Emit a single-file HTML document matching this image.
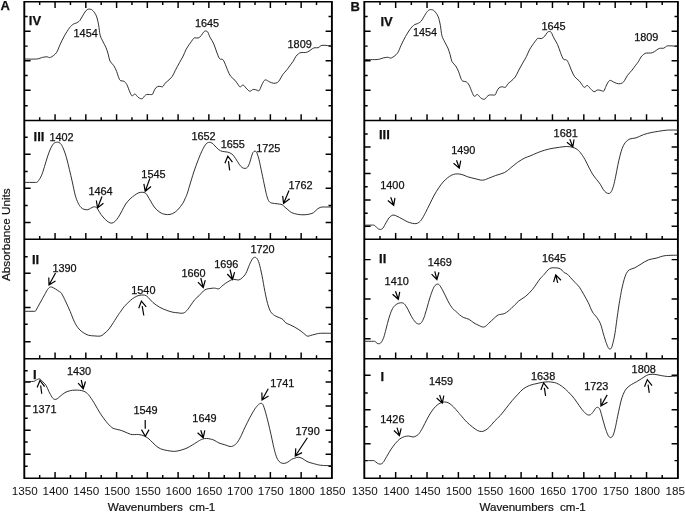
<!DOCTYPE html><html><head><meta charset="utf-8"><title>FTIR spectra</title><style>html,body{margin:0;padding:0;background:#fff}svg{display:block}text{font-family:"Liberation Sans",sans-serif;fill:#111}</style></head><body>
<svg width="685" height="512" viewBox="0 0 685 512">
<rect width="685" height="512" fill="#fff"/>
<path fill="none" stroke="#000" stroke-width="1.9" d="M24.30 0.95V479.05M331.90 0.95V479.05M364.30 0.95V479.05M677.90 0.95V479.05"/>
<path fill="none" stroke="#000" stroke-width="1.5" d="M24.30 1.70H331.90M24.30 120.60H331.90M24.30 239.30H331.90M24.30 358.70H331.90M24.30 478.30H331.90M364.30 1.70H677.90M364.30 120.60H677.90M364.30 239.30H677.90M364.30 358.70H677.90M364.30 478.30H677.90"/>
<path fill="none" stroke="#000" stroke-width="1.45" d="M39.68 1.70v3.40M55.06 1.70v6.30M70.44 1.70v3.40M85.82 1.70v6.30M101.20 1.70v3.40M116.58 1.70v6.30M131.96 1.70v3.40M147.34 1.70v6.30M162.72 1.70v3.40M178.10 1.70v6.30M193.48 1.70v3.40M208.86 1.70v6.30M224.24 1.70v3.40M239.62 1.70v6.30M255.00 1.70v3.40M270.38 1.70v6.30M285.76 1.70v3.40M301.14 1.70v6.30M316.52 1.70v3.40M39.68 120.60v-3.40M55.06 120.60v-6.30M70.44 120.60v-3.40M85.82 120.60v-6.30M101.20 120.60v-3.40M116.58 120.60v-6.30M131.96 120.60v-3.40M147.34 120.60v-6.30M162.72 120.60v-3.40M178.10 120.60v-6.30M193.48 120.60v-3.40M208.86 120.60v-6.30M224.24 120.60v-3.40M239.62 120.60v-6.30M255.00 120.60v-3.40M270.38 120.60v-6.30M285.76 120.60v-3.40M301.14 120.60v-6.30M316.52 120.60v-3.40M39.68 239.30v-3.40M55.06 239.30v-6.30M70.44 239.30v-3.40M85.82 239.30v-6.30M101.20 239.30v-3.40M116.58 239.30v-6.30M131.96 239.30v-3.40M147.34 239.30v-6.30M162.72 239.30v-3.40M178.10 239.30v-6.30M193.48 239.30v-3.40M208.86 239.30v-6.30M224.24 239.30v-3.40M239.62 239.30v-6.30M255.00 239.30v-3.40M270.38 239.30v-6.30M285.76 239.30v-3.40M301.14 239.30v-6.30M316.52 239.30v-3.40M39.68 358.70v-3.40M55.06 358.70v-6.30M70.44 358.70v-3.40M85.82 358.70v-6.30M101.20 358.70v-3.40M116.58 358.70v-6.30M131.96 358.70v-3.40M147.34 358.70v-6.30M162.72 358.70v-3.40M178.10 358.70v-6.30M193.48 358.70v-3.40M208.86 358.70v-6.30M224.24 358.70v-3.40M239.62 358.70v-6.30M255.00 358.70v-3.40M270.38 358.70v-6.30M285.76 358.70v-3.40M301.14 358.70v-6.30M316.52 358.70v-3.40M39.68 478.30v-3.40M55.06 478.30v-6.30M70.44 478.30v-3.40M85.82 478.30v-6.30M101.20 478.30v-3.40M116.58 478.30v-6.30M131.96 478.30v-3.40M147.34 478.30v-6.30M162.72 478.30v-3.40M178.10 478.30v-6.30M193.48 478.30v-3.40M208.86 478.30v-6.30M224.24 478.30v-3.40M239.62 478.30v-6.30M255.00 478.30v-3.40M270.38 478.30v-6.30M285.76 478.30v-3.40M301.14 478.30v-6.30M316.52 478.30v-3.40M379.98 1.70v3.40M395.66 1.70v6.30M411.34 1.70v3.40M427.02 1.70v6.30M442.70 1.70v3.40M458.38 1.70v6.30M474.06 1.70v3.40M489.74 1.70v6.30M505.42 1.70v3.40M521.10 1.70v6.30M536.78 1.70v3.40M552.46 1.70v6.30M568.14 1.70v3.40M583.82 1.70v6.30M599.50 1.70v3.40M615.18 1.70v6.30M630.86 1.70v3.40M646.54 1.70v6.30M662.22 1.70v3.40M379.98 120.60v-3.40M395.66 120.60v-6.30M411.34 120.60v-3.40M427.02 120.60v-6.30M442.70 120.60v-3.40M458.38 120.60v-6.30M474.06 120.60v-3.40M489.74 120.60v-6.30M505.42 120.60v-3.40M521.10 120.60v-6.30M536.78 120.60v-3.40M552.46 120.60v-6.30M568.14 120.60v-3.40M583.82 120.60v-6.30M599.50 120.60v-3.40M615.18 120.60v-6.30M630.86 120.60v-3.40M646.54 120.60v-6.30M662.22 120.60v-3.40M379.98 239.30v-3.40M395.66 239.30v-6.30M411.34 239.30v-3.40M427.02 239.30v-6.30M442.70 239.30v-3.40M458.38 239.30v-6.30M474.06 239.30v-3.40M489.74 239.30v-6.30M505.42 239.30v-3.40M521.10 239.30v-6.30M536.78 239.30v-3.40M552.46 239.30v-6.30M568.14 239.30v-3.40M583.82 239.30v-6.30M599.50 239.30v-3.40M615.18 239.30v-6.30M630.86 239.30v-3.40M646.54 239.30v-6.30M662.22 239.30v-3.40M379.98 358.70v-3.40M395.66 358.70v-6.30M411.34 358.70v-3.40M427.02 358.70v-6.30M442.70 358.70v-3.40M458.38 358.70v-6.30M474.06 358.70v-3.40M489.74 358.70v-6.30M505.42 358.70v-3.40M521.10 358.70v-6.30M536.78 358.70v-3.40M552.46 358.70v-6.30M568.14 358.70v-3.40M583.82 358.70v-6.30M599.50 358.70v-3.40M615.18 358.70v-6.30M630.86 358.70v-3.40M646.54 358.70v-6.30M662.22 358.70v-3.40M379.98 478.30v-3.40M395.66 478.30v-6.30M411.34 478.30v-3.40M427.02 478.30v-6.30M442.70 478.30v-3.40M458.38 478.30v-6.30M474.06 478.30v-3.40M489.74 478.30v-6.30M505.42 478.30v-3.40M521.10 478.30v-6.30M536.78 478.30v-3.40M552.46 478.30v-6.30M568.14 478.30v-3.40M583.82 478.30v-6.30M599.50 478.30v-3.40M615.18 478.30v-6.30M630.86 478.30v-3.40M646.54 478.30v-6.30M662.22 478.30v-3.40M24.30 16.40h3.40M331.90 16.40h-3.40M24.30 31.20h6.30M331.90 31.20h-6.30M24.30 46.10h3.40M331.90 46.10h-3.40M24.30 60.80h6.30M331.90 60.80h-6.30M24.30 75.50h3.40M331.90 75.50h-3.40M24.30 90.30h6.30M331.90 90.30h-6.30M24.30 105.80h3.40M331.90 105.80h-3.40M24.30 137.20h3.40M331.90 137.20h-3.40M24.30 154.30h6.30M331.90 154.30h-6.30M24.30 171.40h3.40M331.90 171.40h-3.40M24.30 188.30h6.30M331.90 188.30h-6.30M24.30 205.40h3.40M331.90 205.40h-3.40M24.30 222.40h6.30M331.90 222.40h-6.30M24.30 256.70h3.40M331.90 256.70h-3.40M24.30 273.30h6.30M331.90 273.30h-6.30M24.30 290.50h3.40M331.90 290.50h-3.40M24.30 307.50h6.30M331.90 307.50h-6.30M24.30 324.30h3.40M331.90 324.30h-3.40M24.30 341.80h6.30M331.90 341.80h-6.30M24.30 370.80h3.40M331.90 370.80h-3.40M24.30 382.00h6.30M331.90 382.00h-6.30M24.30 394.20h3.40M331.90 394.20h-3.40M24.30 406.00h6.30M331.90 406.00h-6.30M24.30 418.20h3.40M331.90 418.20h-3.40M24.30 430.20h6.30M331.90 430.20h-6.30M24.30 442.00h3.40M331.90 442.00h-3.40M24.30 454.20h6.30M331.90 454.20h-6.30M24.30 466.20h3.40M331.90 466.20h-3.40M364.30 16.40h3.40M677.90 16.40h-3.40M364.30 31.20h6.30M677.90 31.20h-6.30M364.30 46.10h3.40M677.90 46.10h-3.40M364.30 60.80h6.30M677.90 60.80h-6.30M364.30 75.50h3.40M677.90 75.50h-3.40M364.30 90.30h6.30M677.90 90.30h-6.30M364.30 105.80h3.40M677.90 105.80h-3.40M364.30 134.00h3.40M677.90 134.00h-3.40M364.30 147.00h6.30M677.90 147.00h-6.30M364.30 160.00h3.40M677.90 160.00h-3.40M364.30 173.50h6.30M677.90 173.50h-6.30M364.30 186.80h3.40M677.90 186.80h-3.40M364.30 199.90h6.30M677.90 199.90h-6.30M364.30 213.20h3.40M677.90 213.20h-3.40M364.30 226.20h6.30M677.90 226.20h-6.30M364.30 259.60h6.30M677.90 259.60h-6.30M364.30 279.00h3.40M677.90 279.00h-3.40M364.30 299.00h6.30M677.90 299.00h-6.30M364.30 318.80h3.40M677.90 318.80h-3.40M364.30 338.70h6.30M677.90 338.70h-6.30M364.30 375.30h6.30M677.90 375.30h-6.30M364.30 392.90h3.40M677.90 392.90h-3.40M364.30 409.80h6.30M677.90 409.80h-6.30M364.30 426.80h3.40M677.90 426.80h-3.40M364.30 443.80h6.30M677.90 443.80h-6.30M364.30 460.60h3.40M677.90 460.60h-3.40"/>
<path fill="none" stroke="#1a1a1a" stroke-width="0.9" stroke-linejoin="round" d="M24.20 59.00C26.27 59.00 33.55 59.27 36.60 59.00C39.65 58.73 40.78 57.77 42.50 57.40C44.22 57.03 45.57 56.80 46.90 56.80C48.23 56.80 48.92 58.08 50.50 57.40C52.08 56.72 54.82 54.82 56.40 52.70C57.98 50.58 58.67 47.50 60.00 44.70C61.33 41.90 62.82 38.72 64.40 35.90C65.98 33.08 68.03 29.75 69.50 27.80C70.97 25.85 72.10 24.98 73.20 24.20C74.30 23.42 75.00 23.72 76.10 23.10C77.20 22.48 78.45 22.15 79.80 20.50C81.15 18.85 82.98 15.00 84.20 13.20C85.42 11.40 86.13 10.37 87.10 9.70C88.07 9.03 89.05 9.05 90.00 9.20C90.95 9.35 91.73 9.45 92.80 10.60C93.87 11.75 95.43 13.72 96.40 16.10C97.37 18.48 97.98 21.73 98.60 24.90C99.22 28.07 99.37 32.30 100.10 35.10C100.83 37.90 102.02 39.62 103.00 41.70C103.98 43.78 105.13 45.52 106.00 47.60C106.87 49.68 107.53 51.95 108.20 54.20C108.87 56.45 109.08 59.22 110.00 61.10C110.92 62.98 112.60 63.78 113.70 65.50C114.80 67.22 115.75 69.33 116.60 71.40C117.45 73.47 118.15 76.37 118.80 77.90C119.45 79.43 119.65 80.03 120.50 80.60C121.35 81.17 122.85 80.65 123.90 81.30C124.95 81.95 125.82 82.73 126.80 84.50C127.78 86.27 128.93 90.02 129.80 91.90C130.67 93.78 131.15 95.45 132.00 95.80C132.85 96.15 134.05 93.93 134.90 94.00C135.75 94.07 136.37 95.52 137.10 96.20C137.83 96.88 138.45 97.68 139.30 98.10C140.15 98.52 141.35 99.02 142.20 98.70C143.05 98.38 143.67 96.90 144.40 96.20C145.13 95.50 145.75 94.78 146.60 94.50C147.45 94.22 148.52 94.53 149.50 94.50C150.48 94.47 151.77 94.87 152.50 94.30C153.23 93.73 153.30 92.23 153.90 91.10C154.50 89.97 155.25 88.30 156.10 87.50C156.95 86.70 157.90 86.43 159.00 86.30C160.10 86.17 161.72 87.18 162.70 86.70C163.68 86.22 164.05 84.37 164.90 83.40C165.75 82.43 166.58 82.05 167.80 80.90C169.02 79.75 170.97 78.22 172.20 76.50C173.43 74.78 173.98 72.92 175.20 70.60C176.42 68.28 178.17 65.03 179.50 62.60C180.83 60.17 182.10 58.20 183.20 56.00C184.30 53.80 185.08 51.33 186.10 49.40C187.12 47.47 188.07 46.20 189.30 44.40C190.53 42.60 192.57 39.70 193.50 38.60C194.43 37.50 194.12 37.90 194.90 37.80C195.68 37.70 197.13 38.38 198.20 38.00C199.27 37.62 200.42 36.47 201.30 35.50C202.18 34.53 202.88 32.93 203.50 32.20C204.12 31.47 204.53 31.28 205.00 31.10C205.47 30.92 205.83 30.92 206.30 31.10C206.77 31.28 207.17 31.15 207.80 32.20C208.43 33.25 209.10 35.43 210.10 37.40C211.10 39.37 212.70 41.55 213.80 44.00C214.90 46.45 215.73 49.65 216.70 52.10C217.67 54.55 218.62 57.48 219.60 58.70C220.58 59.92 221.73 58.67 222.60 59.40C223.47 60.13 223.95 61.27 224.80 63.10C225.65 64.93 226.73 68.22 227.70 70.40C228.67 72.58 229.38 74.55 230.60 76.20C231.82 77.85 233.78 78.95 235.00 80.30C236.22 81.65 237.05 83.20 237.90 84.30C238.75 85.40 239.23 86.78 240.10 86.90C240.97 87.02 242.12 84.82 243.10 85.00C244.08 85.18 244.90 86.97 246.00 88.00C247.10 89.03 248.48 90.97 249.70 91.20C250.92 91.43 252.08 89.57 253.30 89.40C254.52 89.23 256.02 90.00 257.00 90.20C257.98 90.40 258.47 91.33 259.20 90.60C259.93 89.87 260.67 87.33 261.40 85.80C262.13 84.27 262.87 82.38 263.60 81.40C264.33 80.42 264.83 79.83 265.80 79.90C266.77 79.97 268.07 81.23 269.40 81.80C270.73 82.37 272.45 83.20 273.80 83.30C275.15 83.40 276.52 82.97 277.50 82.40C278.48 81.83 278.85 81.17 279.70 79.90C280.55 78.63 281.38 76.50 282.60 74.80C283.82 73.10 285.68 71.37 287.00 69.70C288.32 68.03 289.47 66.20 290.50 64.80C291.53 63.40 292.32 62.68 293.20 61.30C294.08 59.92 294.92 57.75 295.80 56.50C296.68 55.25 297.62 54.47 298.50 53.80C299.38 53.13 299.93 52.72 301.10 52.50C302.27 52.28 304.18 52.72 305.50 52.50C306.82 52.28 307.83 51.85 309.00 51.20C310.17 50.55 311.48 49.18 312.50 48.60C313.52 48.02 314.15 47.85 315.10 47.70C316.05 47.55 317.23 48.03 318.20 47.70C319.17 47.37 320.08 46.10 320.90 45.70C321.72 45.30 322.00 45.33 323.10 45.30C324.20 45.27 326.02 45.37 327.50 45.50C328.98 45.63 331.25 46.00 332.00 46.10"/>
<path fill="none" stroke="#1a1a1a" stroke-width="0.9" stroke-linejoin="round" d="M364.70 59.50C366.80 59.50 374.21 59.77 377.31 59.50C380.41 59.23 381.57 58.27 383.31 57.90C385.06 57.53 386.43 57.30 387.79 57.30C389.15 57.30 389.84 58.58 391.45 57.90C393.06 57.22 395.84 55.32 397.45 53.20C399.06 51.08 399.76 48.00 401.11 45.20C402.47 42.40 403.98 39.22 405.59 36.40C407.20 33.58 409.29 30.25 410.78 28.30C412.27 26.35 413.42 25.48 414.54 24.70C415.66 23.92 416.37 24.22 417.49 23.60C418.61 22.98 419.88 22.65 421.26 21.00C422.63 19.35 424.49 15.50 425.73 13.70C426.97 11.90 427.70 10.87 428.68 10.20C429.66 9.53 430.66 9.55 431.63 9.70C432.60 9.85 433.39 9.95 434.48 11.10C435.56 12.25 437.16 14.22 438.14 16.60C439.12 18.98 439.75 22.23 440.38 25.40C441.01 28.57 441.16 32.80 441.91 35.60C442.65 38.40 443.85 40.12 444.86 42.20C445.86 44.28 447.03 46.02 447.91 48.10C448.79 50.18 449.47 52.45 450.14 54.70C450.82 56.95 451.04 59.72 451.98 61.60C452.91 63.48 454.62 64.28 455.74 66.00C456.86 67.72 457.82 69.83 458.69 71.90C459.55 73.97 460.27 76.87 460.93 78.40C461.59 79.93 461.79 80.53 462.66 81.10C463.52 81.67 465.05 81.15 466.12 81.80C467.18 82.45 468.06 83.23 469.06 85.00C470.07 86.77 471.24 90.52 472.12 92.40C473.00 94.28 473.49 95.95 474.35 96.30C475.22 96.65 476.44 94.43 477.30 94.50C478.17 94.57 478.80 96.02 479.54 96.70C480.29 97.38 480.92 98.18 481.78 98.60C482.64 99.02 483.87 99.52 484.73 99.20C485.59 98.88 486.22 97.40 486.97 96.70C487.71 96.00 488.34 95.28 489.21 95.00C490.07 94.72 491.16 95.03 492.16 95.00C493.16 94.97 494.46 95.37 495.21 94.80C495.95 94.23 496.02 92.73 496.63 91.60C497.24 90.47 498.00 88.80 498.87 88.00C499.73 87.20 500.70 86.93 501.82 86.80C502.94 86.67 504.58 87.68 505.58 87.20C506.58 86.72 506.96 84.87 507.82 83.90C508.69 82.93 509.53 82.55 510.77 81.40C512.01 80.25 513.99 78.72 515.25 77.00C516.50 75.28 517.06 73.42 518.30 71.10C519.54 68.78 521.32 65.53 522.67 63.10C524.03 60.67 525.32 58.70 526.44 56.50C527.56 54.30 528.35 51.83 529.39 49.90C530.42 47.97 531.39 46.70 532.64 44.90C533.90 43.10 535.96 40.20 536.91 39.10C537.86 38.00 537.54 38.40 538.34 38.30C539.13 38.20 540.61 38.88 541.69 38.50C542.78 38.12 543.95 36.97 544.85 36.00C545.75 35.03 546.46 33.43 547.09 32.70C547.71 31.97 548.14 31.78 548.61 31.60C549.09 31.42 549.46 31.42 549.93 31.60C550.41 31.78 550.82 31.65 551.46 32.70C552.10 33.75 552.78 35.93 553.80 37.90C554.82 39.87 556.44 42.05 557.56 44.50C558.68 46.95 559.53 50.15 560.51 52.60C561.50 55.05 562.46 57.98 563.46 59.20C564.46 60.42 565.63 59.17 566.51 59.90C567.40 60.63 567.89 61.77 568.75 63.60C569.62 65.43 570.72 68.72 571.70 70.90C572.69 73.08 573.41 75.05 574.65 76.70C575.89 78.35 577.89 79.45 579.13 80.80C580.37 82.15 581.21 83.70 582.08 84.80C582.94 85.90 583.43 87.28 584.32 87.40C585.20 87.52 586.37 85.32 587.37 85.50C588.37 85.68 589.20 87.47 590.32 88.50C591.44 89.53 592.84 91.47 594.08 91.70C595.32 91.93 596.51 90.07 597.74 89.90C598.98 89.73 600.51 90.50 601.51 90.70C602.51 90.90 603.00 91.83 603.74 91.10C604.49 90.37 605.24 87.83 605.98 86.30C606.73 84.77 607.47 82.88 608.22 81.90C608.97 80.92 609.48 80.33 610.46 80.40C611.44 80.47 612.76 81.73 614.12 82.30C615.48 82.87 617.22 83.70 618.60 83.80C619.97 83.90 621.36 83.47 622.36 82.90C623.36 82.33 623.73 81.67 624.60 80.40C625.46 79.13 626.31 77.00 627.55 75.30C628.79 73.60 630.68 71.87 632.02 70.20C633.36 68.53 634.53 66.70 635.58 65.30C636.63 63.90 637.43 63.18 638.33 61.80C639.23 60.42 640.08 58.25 640.97 57.00C641.87 55.75 642.82 54.97 643.72 54.30C644.62 53.63 645.18 53.22 646.37 53.00C647.55 52.78 649.50 53.22 650.84 53.00C652.18 52.78 653.22 52.35 654.40 51.70C655.59 51.05 656.93 49.68 657.96 49.10C659.00 48.52 659.64 48.35 660.61 48.20C661.57 48.05 662.78 48.53 663.76 48.20C664.74 47.87 665.68 46.60 666.51 46.20C667.34 45.80 667.63 45.83 668.75 45.80C669.86 45.77 671.71 45.87 673.22 46.00C674.73 46.13 677.04 46.50 677.80 46.60"/>
<path fill="none" stroke="#1a1a1a" stroke-width="0.9" stroke-linejoin="round" d="M24.00 182.40C25.92 182.40 33.35 182.42 35.50 182.40C37.65 182.38 36.38 182.62 36.90 182.30C37.42 181.98 37.82 181.67 38.60 180.50C39.38 179.33 40.62 177.62 41.60 175.30C42.58 172.98 43.53 169.65 44.50 166.60C45.47 163.55 46.42 159.93 47.40 157.00C48.38 154.07 49.42 151.18 50.40 149.00C51.38 146.82 52.45 144.98 53.30 143.90C54.15 142.82 54.83 142.78 55.50 142.50C56.17 142.22 56.70 142.20 57.30 142.20C57.90 142.20 58.43 142.10 59.10 142.50C59.77 142.90 60.57 143.52 61.30 144.60C62.03 145.68 62.63 146.80 63.50 149.00C64.37 151.20 65.52 154.38 66.50 157.80C67.48 161.22 68.43 165.48 69.40 169.50C70.37 173.52 71.33 177.63 72.30 181.90C73.27 186.17 74.22 191.55 75.20 195.10C76.18 198.65 77.22 201.13 78.20 203.20C79.18 205.27 80.13 206.48 81.10 207.50C82.07 208.52 82.90 208.93 84.00 209.30C85.10 209.67 86.60 209.87 87.70 209.70C88.80 209.53 89.63 208.77 90.60 208.30C91.57 207.83 92.65 207.10 93.50 206.90C94.35 206.70 95.03 206.78 95.70 207.10C96.37 207.42 96.63 207.60 97.50 208.80C98.37 210.00 99.62 212.53 100.90 214.30C102.18 216.07 103.87 218.07 105.20 219.40C106.53 220.73 107.80 221.68 108.90 222.30C110.00 222.92 110.82 223.22 111.80 223.10C112.78 222.98 113.70 222.58 114.80 221.60C115.90 220.62 117.18 219.03 118.40 217.20C119.62 215.37 120.88 212.80 122.10 210.60C123.32 208.40 124.37 205.95 125.70 204.00C127.03 202.05 128.63 200.35 130.10 198.90C131.57 197.45 133.03 196.33 134.50 195.30C135.97 194.27 137.55 193.20 138.90 192.70C140.25 192.20 141.50 192.23 142.60 192.30C143.70 192.37 144.65 192.48 145.50 193.10C146.35 193.72 146.85 194.67 147.70 196.00C148.55 197.33 149.50 199.27 150.60 201.10C151.70 202.93 153.07 205.37 154.30 207.00C155.53 208.63 156.67 209.80 158.00 210.90C159.33 212.00 160.72 212.98 162.30 213.60C163.88 214.22 165.78 214.60 167.50 214.60C169.22 214.60 170.90 214.38 172.60 213.60C174.30 212.82 176.00 211.62 177.70 209.90C179.40 208.18 181.58 205.15 182.80 203.30C184.02 201.45 184.27 200.40 185.00 198.80C185.73 197.20 186.40 196.00 187.20 193.70C188.00 191.40 188.70 188.62 189.80 185.00C190.90 181.38 192.40 176.18 193.80 172.00C195.20 167.82 196.73 163.63 198.20 159.90C199.67 156.17 201.27 152.28 202.60 149.60C203.93 146.92 205.10 145.02 206.20 143.80C207.30 142.58 208.22 142.42 209.20 142.30C210.18 142.18 211.13 142.48 212.10 143.10C213.07 143.72 213.90 144.92 215.00 146.00C216.10 147.08 217.48 148.70 218.70 149.60C219.92 150.50 220.83 150.98 222.30 151.40C223.77 151.82 225.90 151.67 227.50 152.10C229.10 152.53 230.57 152.95 231.90 154.00C233.23 155.05 234.28 156.68 235.50 158.40C236.72 160.12 238.10 162.78 239.20 164.30C240.30 165.82 241.13 166.82 242.10 167.50C243.07 168.18 244.15 168.40 245.00 168.40C245.85 168.40 246.47 168.30 247.20 167.50C247.93 166.70 248.67 165.48 249.40 163.60C250.13 161.72 250.98 158.08 251.60 156.20C252.22 154.32 252.53 153.15 253.10 152.30C253.67 151.45 254.40 151.05 255.00 151.10C255.60 151.15 256.05 151.25 256.70 152.60C257.35 153.95 258.03 155.78 258.90 159.20C259.77 162.62 260.92 168.47 261.90 173.10C262.88 177.73 263.95 183.10 264.80 187.00C265.65 190.90 266.27 194.07 267.00 196.50C267.73 198.93 268.35 200.50 269.20 201.60C270.05 202.70 270.77 202.73 272.10 203.10C273.43 203.47 275.53 203.55 277.20 203.80C278.87 204.05 280.92 204.12 282.10 204.60C283.28 205.08 283.33 205.85 284.30 206.70C285.27 207.55 286.68 208.72 287.90 209.70C289.12 210.68 290.00 211.83 291.60 212.60C293.20 213.37 295.43 213.93 297.50 214.30C299.57 214.67 301.93 214.85 304.00 214.80C306.07 214.75 308.30 214.37 309.90 214.00C311.50 213.63 312.38 213.40 313.60 212.60C314.82 211.80 315.98 210.10 317.20 209.20C318.42 208.30 319.55 207.57 320.90 207.20C322.25 206.83 323.45 207.03 325.30 207.00C327.15 206.97 330.88 207.00 332.00 207.00"/>
<path fill="none" stroke="#1a1a1a" stroke-width="0.9" stroke-linejoin="round" d="M24.00 311.30C25.50 311.30 31.17 311.31 33.00 311.30C34.83 311.29 34.52 311.40 35.00 311.25C35.48 311.10 35.07 311.77 35.90 310.40C36.73 309.02 38.57 305.58 40.00 303.00C41.43 300.42 43.25 297.13 44.50 294.90C45.75 292.67 46.65 290.85 47.50 289.60C48.35 288.35 48.93 287.83 49.60 287.40C50.27 286.97 50.52 286.73 51.50 287.00C52.48 287.27 54.25 288.27 55.50 289.00C56.75 289.73 58.00 290.67 59.00 291.40C60.00 292.13 60.35 291.63 61.50 293.40C62.65 295.17 64.45 298.98 65.90 302.00C67.35 305.02 68.75 308.12 70.20 311.50C71.65 314.88 73.13 319.38 74.60 322.30C76.07 325.22 77.53 327.27 79.00 329.00C80.47 330.73 81.80 331.65 83.40 332.70C85.00 333.75 86.77 334.77 88.60 335.30C90.43 335.83 92.45 335.77 94.40 335.90C96.35 336.03 98.72 336.43 100.30 336.10C101.88 335.77 102.45 335.08 103.90 333.90C105.35 332.72 107.42 330.90 109.00 329.00C110.58 327.10 111.80 324.93 113.40 322.50C115.00 320.07 117.33 316.32 118.60 314.40C119.87 312.48 120.03 312.33 121.00 311.00C121.97 309.67 122.85 308.15 124.40 306.40C125.95 304.65 128.58 302.02 130.30 300.50C132.02 298.98 133.23 298.15 134.70 297.30C136.17 296.45 137.45 295.77 139.10 295.40C140.75 295.03 143.07 294.75 144.60 295.10C146.13 295.45 146.90 296.25 148.30 297.50C149.70 298.75 151.08 300.97 153.00 302.60C154.92 304.23 157.50 306.00 159.80 307.30C162.10 308.60 164.65 309.58 166.80 310.40C168.95 311.22 170.75 311.78 172.70 312.20C174.65 312.62 176.80 312.73 178.50 312.90C180.20 313.07 181.55 313.55 182.90 313.20C184.25 312.85 185.25 312.18 186.60 310.80C187.95 309.42 189.67 306.73 191.00 304.90C192.33 303.07 193.27 301.33 194.60 299.80C195.93 298.27 197.53 297.17 199.00 295.70C200.47 294.23 202.17 292.08 203.40 291.00C204.63 289.92 205.30 289.62 206.40 289.20C207.50 288.78 208.67 288.68 210.00 288.50C211.33 288.32 212.93 288.05 214.40 288.10C215.87 288.15 217.58 289.10 218.80 288.80C220.02 288.50 220.60 287.20 221.70 286.30C222.80 285.40 224.05 284.33 225.40 283.40C226.75 282.47 228.47 281.38 229.80 280.70C231.13 280.02 231.93 279.42 233.40 279.30C234.87 279.18 237.13 280.25 238.60 280.00C240.07 279.75 240.98 278.90 242.20 277.80C243.42 276.70 244.68 275.60 245.90 273.40C247.12 271.20 248.40 267.03 249.50 264.60C250.60 262.17 251.63 260.02 252.50 258.80C253.37 257.58 253.97 257.35 254.70 257.30C255.43 257.25 256.17 257.52 256.90 258.50C257.63 259.48 258.25 260.35 259.10 263.20C259.95 266.05 261.03 270.88 262.00 275.60C262.97 280.32 263.97 286.85 264.90 291.50C265.83 296.15 266.65 300.15 267.60 303.50C268.55 306.85 269.43 309.60 270.60 311.60C271.77 313.60 273.17 314.50 274.60 315.50C276.03 316.50 277.83 316.95 279.20 317.60C280.57 318.25 281.72 318.53 282.80 319.40C283.88 320.27 284.48 321.90 285.70 322.80C286.92 323.70 288.63 324.10 290.10 324.80C291.57 325.50 293.03 326.18 294.50 327.00C295.97 327.82 297.43 328.70 298.90 329.70C300.37 330.70 302.08 332.03 303.30 333.00C304.52 333.97 305.42 334.97 306.20 335.50C306.98 336.03 307.27 336.20 308.00 336.20C308.73 336.20 309.43 335.82 310.60 335.50C311.77 335.18 313.40 334.67 315.00 334.30C316.60 333.93 317.37 333.47 320.20 333.30C323.03 333.13 330.03 333.30 332.00 333.30"/>
<path fill="none" stroke="#1a1a1a" stroke-width="0.9" stroke-linejoin="round" d="M24.00 381.40C25.58 381.40 31.33 381.70 33.50 381.40C35.67 381.10 35.95 380.00 37.00 379.60C38.05 379.20 38.87 378.67 39.80 379.00C40.73 379.33 41.57 380.55 42.60 381.60C43.63 382.65 44.95 383.65 46.00 385.30C47.05 386.95 47.93 389.57 48.90 391.50C49.87 393.43 51.02 395.67 51.80 396.90C52.58 398.13 53.03 398.48 53.60 398.90C54.17 399.32 54.60 399.42 55.20 399.40C55.80 399.38 56.30 399.38 57.20 398.80C58.10 398.22 59.30 396.93 60.60 395.90C61.90 394.87 63.60 393.42 65.00 392.60C66.40 391.78 67.78 391.38 69.00 391.00C70.22 390.62 71.13 390.45 72.30 390.30C73.47 390.15 74.78 390.10 76.00 390.10C77.22 390.10 78.27 390.10 79.60 390.30C80.93 390.50 82.53 390.58 84.00 391.30C85.47 392.02 86.68 392.62 88.40 394.60C90.12 396.58 92.35 400.10 94.30 403.20C96.25 406.30 98.15 410.17 100.10 413.20C102.05 416.23 104.05 419.02 106.00 421.40C107.95 423.78 110.10 426.20 111.80 427.50C113.50 428.80 114.83 428.77 116.20 429.20C117.57 429.63 118.70 429.72 120.00 430.10C121.30 430.48 122.23 430.80 124.00 431.50C125.77 432.20 128.83 433.78 130.60 434.30C132.37 434.82 133.27 434.57 134.60 434.60C135.93 434.63 136.83 434.22 138.60 434.50C140.37 434.78 143.23 435.33 145.20 436.30C147.17 437.27 148.68 438.78 150.40 440.30C152.12 441.82 153.80 443.98 155.50 445.40C157.20 446.82 158.65 447.95 160.60 448.80C162.55 449.65 164.88 450.07 167.20 450.50C169.52 450.93 172.18 451.47 174.50 451.40C176.82 451.33 179.02 450.67 181.10 450.10C183.18 449.53 185.05 448.90 187.00 448.00C188.95 447.10 190.85 445.87 192.80 444.70C194.75 443.53 197.25 441.87 198.70 441.00C200.15 440.13 200.55 439.90 201.50 439.50C202.45 439.10 203.18 438.73 204.40 438.60C205.62 438.47 207.22 438.45 208.80 438.70C210.38 438.95 212.20 439.38 213.90 440.10C215.60 440.82 217.17 442.22 219.00 443.00C220.83 443.78 223.07 444.22 224.90 444.80C226.73 445.38 228.67 446.30 230.00 446.50C231.33 446.70 231.80 446.53 232.90 446.00C234.00 445.47 235.37 444.72 236.60 443.30C237.83 441.88 238.95 440.07 240.30 437.50C241.65 434.93 243.12 431.20 244.70 427.90C246.28 424.60 248.10 420.87 249.80 417.70C251.50 414.53 253.43 411.10 254.90 408.90C256.37 406.70 257.70 405.40 258.60 404.50C259.50 403.60 259.80 403.68 260.30 403.50C260.80 403.32 261.15 403.20 261.60 403.40C262.05 403.60 262.40 403.42 263.00 404.70C263.60 405.98 264.35 408.20 265.20 411.10C266.05 414.00 267.13 418.20 268.10 422.10C269.07 426.00 270.15 430.72 271.00 434.50C271.85 438.28 272.47 441.62 273.20 444.80C273.93 447.98 274.67 451.17 275.40 453.60C276.13 456.03 276.75 457.90 277.60 459.40C278.45 460.90 279.40 461.93 280.50 462.60C281.60 463.27 282.98 463.48 284.20 463.40C285.42 463.32 286.58 462.77 287.80 462.10C289.02 461.43 290.27 460.08 291.50 459.40C292.73 458.72 294.07 458.36 295.20 458.00C296.32 457.64 297.12 457.21 298.25 457.25C299.38 457.29 300.54 457.54 302.00 458.25C303.46 458.96 305.12 460.62 307.00 461.50C308.88 462.38 310.96 462.88 313.25 463.50C315.54 464.12 317.62 464.88 320.75 465.25C323.88 465.62 330.12 465.67 332.00 465.75"/>
<path fill="none" stroke="#1a1a1a" stroke-width="0.9" stroke-linejoin="round" d="M364.00 225.20C365.42 225.18 370.77 225.08 372.50 225.10C374.23 225.12 373.75 224.95 374.40 225.30C375.05 225.65 375.70 226.58 376.40 227.20C377.10 227.82 377.87 228.63 378.60 229.00C379.33 229.37 380.07 229.57 380.80 229.40C381.53 229.23 382.13 229.10 383.00 228.00C383.87 226.90 385.02 224.47 386.00 222.80C386.98 221.13 387.93 219.22 388.90 218.00C389.87 216.78 390.95 215.98 391.80 215.50C392.65 215.02 393.15 214.98 394.00 215.10C394.85 215.22 395.55 215.57 396.90 216.20C398.25 216.83 400.38 217.98 402.10 218.90C403.82 219.82 405.50 220.97 407.20 221.70C408.90 222.43 410.83 222.98 412.30 223.30C413.77 223.62 414.90 223.75 416.00 223.60C417.10 223.45 417.93 223.13 418.90 222.40C419.87 221.67 420.70 220.83 421.80 219.20C422.90 217.57 424.15 215.17 425.50 212.60C426.85 210.03 428.43 206.73 429.90 203.80C431.37 200.87 432.83 197.65 434.30 195.00C435.77 192.35 437.23 190.07 438.70 187.90C440.17 185.73 441.63 183.67 443.10 182.00C444.57 180.33 446.05 179.05 447.50 177.90C448.95 176.75 450.47 175.75 451.80 175.10C453.13 174.45 454.27 174.18 455.50 174.00C456.73 173.82 457.95 173.85 459.20 174.00C460.45 174.15 461.57 174.43 463.00 174.90C464.43 175.37 465.78 176.17 467.80 176.80C469.82 177.43 472.65 178.13 475.10 178.70C477.55 179.27 480.30 180.25 482.50 180.20C484.70 180.15 486.12 179.18 488.30 178.40C490.48 177.62 492.92 176.47 495.60 175.50C498.28 174.53 501.95 173.82 504.40 172.60C506.85 171.38 508.10 169.92 510.30 168.20C512.50 166.48 515.17 164.02 517.60 162.30C520.03 160.58 522.83 158.95 524.90 157.90C526.97 156.85 527.93 156.85 530.00 156.00C532.07 155.15 534.87 153.77 537.30 152.80C539.73 151.83 542.15 150.93 544.60 150.20C547.05 149.47 549.55 148.88 552.00 148.40C554.45 147.92 556.87 147.62 559.30 147.30C561.73 146.98 564.40 146.50 566.60 146.50C568.80 146.50 570.78 146.85 572.50 147.30C574.22 147.75 575.57 148.28 576.90 149.20C578.23 150.12 579.17 151.10 580.50 152.80C581.83 154.50 583.43 156.83 584.90 159.40C586.37 161.97 587.95 165.63 589.30 168.20C590.65 170.77 591.78 172.92 593.00 174.80C594.22 176.68 595.38 177.92 596.60 179.50C597.82 181.08 599.20 182.65 600.30 184.30C601.40 185.95 602.23 188.02 603.20 189.40C604.17 190.78 605.12 191.92 606.10 192.60C607.08 193.28 608.23 193.67 609.10 193.50C609.97 193.33 610.57 192.88 611.30 191.60C612.03 190.32 612.77 188.37 613.50 185.80C614.23 183.23 614.98 179.62 615.70 176.20C616.42 172.78 617.08 168.72 617.80 165.30C618.52 161.88 619.27 158.52 620.00 155.70C620.73 152.88 621.33 150.58 622.20 148.40C623.07 146.22 623.90 144.18 625.20 142.60C626.50 141.02 628.20 139.68 630.00 138.90C631.80 138.12 633.73 138.62 636.00 137.90C638.27 137.18 641.08 135.48 643.60 134.60C646.12 133.72 648.60 133.15 651.10 132.60C653.60 132.05 655.88 131.72 658.60 131.30C661.32 130.88 664.17 130.30 667.40 130.10C670.63 129.90 676.23 130.10 678.00 130.10"/>
<path fill="none" stroke="#1a1a1a" stroke-width="0.9" stroke-linejoin="round" d="M364.00 341.30C365.58 341.30 371.63 341.27 373.50 341.30C375.37 341.33 374.63 341.20 375.20 341.50C375.77 341.80 376.28 342.72 376.90 343.10C377.52 343.48 378.17 343.93 378.90 343.80C379.63 343.67 380.48 343.40 381.30 342.30C382.12 341.20 383.02 339.38 383.80 337.20C384.58 335.02 385.15 332.37 386.00 329.20C386.85 326.03 387.93 321.38 388.90 318.20C389.87 315.02 390.83 312.18 391.80 310.10C392.77 308.02 393.60 306.83 394.70 305.70C395.80 304.57 397.17 303.78 398.40 303.30C399.63 302.82 401.00 302.58 402.10 302.80C403.20 303.02 404.03 303.50 405.00 304.60C405.97 305.70 406.80 307.38 407.90 309.40C409.00 311.42 410.38 314.62 411.60 316.70C412.82 318.78 414.05 320.68 415.20 321.90C416.35 323.12 417.47 323.88 418.50 324.00C419.53 324.12 420.48 323.68 421.40 322.60C422.32 321.52 423.07 319.95 424.00 317.50C424.93 315.05 426.02 311.20 427.00 307.90C427.98 304.60 428.93 300.75 429.90 297.70C430.87 294.65 431.95 291.63 432.80 289.60C433.65 287.57 434.22 286.42 435.00 285.50C435.78 284.58 436.77 284.18 437.50 284.10C438.23 284.02 438.60 284.08 439.40 285.00C440.20 285.92 441.20 287.60 442.30 289.60C443.40 291.60 444.77 294.55 446.00 297.00C447.23 299.45 448.48 302.25 449.70 304.30C450.92 306.35 452.33 308.18 453.30 309.30C454.27 310.42 454.48 310.10 455.50 311.00C456.52 311.90 458.02 313.60 459.40 314.70C460.78 315.80 462.22 316.83 463.80 317.60C465.38 318.37 467.20 318.40 468.90 319.30C470.60 320.20 472.28 321.95 474.00 323.00C475.72 324.05 477.85 324.95 479.20 325.60C480.55 326.25 481.13 326.73 482.10 326.90C483.07 327.07 483.90 327.20 485.00 326.60C486.10 326.00 487.23 324.63 488.70 323.30C490.17 321.97 492.22 320.00 493.80 318.60C495.38 317.20 496.37 315.77 498.20 314.90C500.03 314.03 502.60 314.50 504.80 313.40C507.00 312.30 509.08 310.37 511.40 308.30C513.72 306.23 516.38 302.95 518.70 301.00C521.02 299.05 522.98 298.55 525.30 296.60C527.62 294.65 530.17 292.23 532.60 289.30C535.03 286.37 537.93 281.52 539.90 279.00C541.87 276.48 543.03 275.73 544.40 274.20C545.77 272.67 547.00 270.83 548.10 269.80C549.20 268.77 549.92 268.33 551.00 268.00C552.08 267.67 553.27 267.75 554.60 267.80C555.93 267.85 557.77 267.90 559.00 268.30C560.23 268.70 561.13 269.47 562.00 270.20C562.87 270.93 563.35 272.08 564.20 272.70C565.05 273.32 566.02 273.05 567.10 273.90C568.18 274.75 569.37 276.37 570.70 277.80C572.03 279.23 573.63 280.92 575.10 282.50C576.57 284.08 578.03 285.27 579.50 287.30C580.97 289.33 582.43 292.13 583.90 294.70C585.37 297.27 586.87 299.82 588.30 302.70C589.73 305.58 591.08 309.55 592.50 312.00C593.92 314.45 595.47 315.42 596.80 317.40C598.13 319.38 599.40 321.15 600.50 323.90C601.60 326.65 602.42 330.65 603.40 333.90C604.38 337.15 605.53 341.00 606.40 343.40C607.27 345.80 608.00 347.38 608.60 348.30C609.20 349.22 609.52 348.98 610.00 348.90C610.48 348.82 610.93 349.08 611.50 347.80C612.07 346.52 612.80 343.75 613.40 341.20C614.00 338.65 614.52 336.15 615.10 332.50C615.68 328.85 616.28 323.70 616.90 319.30C617.52 314.90 618.18 310.07 618.80 306.10C619.42 302.13 620.07 298.50 620.60 295.50C621.13 292.50 621.40 290.80 622.00 288.10C622.60 285.40 623.47 281.75 624.20 279.30C624.93 276.85 625.55 274.98 626.40 273.40C627.25 271.82 627.90 270.73 629.30 269.80C630.70 268.87 632.83 268.77 634.80 267.80C636.77 266.83 638.80 265.33 641.10 264.00C643.40 262.67 646.10 260.77 648.60 259.80C651.10 258.83 653.38 258.88 656.10 258.20C658.82 257.52 661.25 256.20 664.90 255.70C668.55 255.20 675.82 255.28 678.00 255.20"/>
<path fill="none" stroke="#1a1a1a" stroke-width="0.9" stroke-linejoin="round" d="M364.00 460.60C365.47 460.60 371.03 460.55 372.80 460.60C374.57 460.65 373.87 460.48 374.60 460.90C375.33 461.32 376.28 462.57 377.20 463.10C378.12 463.63 379.13 464.18 380.10 464.10C381.07 464.02 381.90 463.87 383.00 462.60C384.10 461.33 385.35 458.73 386.70 456.50C388.05 454.27 389.63 451.40 391.10 449.20C392.57 447.00 394.03 445.02 395.50 443.30C396.97 441.58 398.43 440.00 399.90 438.90C401.37 437.80 402.83 437.18 404.30 436.70C405.77 436.22 407.25 435.95 408.70 436.00C410.15 436.05 411.78 437.00 413.00 437.00C414.22 437.00 415.02 436.53 416.00 436.00C416.98 435.47 417.80 435.15 418.90 433.80C420.00 432.45 421.25 430.33 422.60 427.90C423.95 425.47 425.55 421.88 427.00 419.20C428.45 416.52 429.85 413.93 431.30 411.80C432.75 409.67 434.23 407.85 435.70 406.40C437.17 404.95 438.63 403.83 440.10 403.10C441.57 402.37 443.03 402.00 444.50 402.00C445.97 402.00 447.43 402.32 448.90 403.10C450.37 403.88 451.72 405.15 453.30 406.70C454.88 408.25 457.13 410.95 458.40 412.40C459.67 413.85 459.52 413.80 460.90 415.40C462.28 417.00 464.75 420.05 466.70 422.00C468.65 423.95 470.77 425.67 472.60 427.10C474.43 428.53 476.23 429.87 477.70 430.60C479.17 431.33 480.18 431.52 481.40 431.50C482.62 431.48 483.67 431.23 485.00 430.50C486.33 429.77 487.82 428.65 489.40 427.10C490.98 425.55 492.67 423.15 494.50 421.20C496.33 419.25 498.45 417.58 500.40 415.40C502.35 413.22 504.25 410.55 506.20 408.10C508.15 405.65 510.13 403.02 512.10 400.70C514.07 398.38 516.17 396.15 518.00 394.20C519.83 392.25 521.15 390.47 523.10 389.00C525.05 387.53 527.38 386.32 529.70 385.40C532.02 384.48 534.82 384.02 537.00 383.50C539.18 382.98 540.85 382.58 542.80 382.30C544.75 382.02 547.17 381.82 548.70 381.80C550.23 381.78 550.67 381.97 552.00 382.20C553.33 382.43 554.93 382.43 556.70 383.20C558.47 383.97 560.65 385.33 562.60 386.80C564.55 388.27 566.45 390.03 568.40 392.00C570.35 393.97 572.47 396.28 574.30 398.60C576.13 400.92 577.82 403.72 579.40 405.90C580.98 408.08 582.45 410.23 583.80 411.70C585.15 413.17 586.40 414.20 587.50 414.70C588.60 415.20 589.43 415.20 590.40 414.70C591.37 414.20 592.45 412.75 593.30 411.70C594.15 410.65 594.77 409.13 595.50 408.40C596.23 407.67 596.97 407.12 597.70 407.30C598.43 407.48 599.17 407.90 599.90 409.50C600.63 411.10 601.25 413.97 602.10 416.90C602.95 419.83 604.02 424.05 605.00 427.10C605.98 430.15 607.07 433.45 608.00 435.20C608.93 436.95 609.75 437.60 610.60 437.60C611.45 437.60 612.32 436.83 613.10 435.20C613.88 433.57 614.57 430.85 615.30 427.80C616.03 424.75 616.77 420.43 617.50 416.90C618.23 413.37 618.97 409.78 619.70 406.60C620.43 403.42 621.12 400.27 621.90 397.80C622.68 395.33 623.57 393.42 624.40 391.80C625.23 390.18 625.75 389.30 626.90 388.10C628.05 386.90 629.73 385.63 631.30 384.60C632.87 383.57 634.63 382.87 636.30 381.90C637.97 380.93 639.63 379.85 641.30 378.80C642.97 377.75 644.85 376.33 646.30 375.60C647.75 374.87 648.55 374.60 650.00 374.40C651.45 374.20 653.12 374.20 655.00 374.40C656.88 374.60 659.22 375.25 661.30 375.60C663.38 375.95 665.63 376.38 667.50 376.50C669.37 376.62 670.75 376.38 672.50 376.30C674.25 376.22 677.08 376.05 678.00 376.00"/>
<path fill="none" stroke="#000" stroke-width="1.2" stroke-linecap="butt" stroke-linejoin="miter" d="M102.00 196.50L97.50 208.00M103.44 203.26L97.50 208.00L96.36 200.49M149.90 178.40L145.20 191.30M151.02 186.42L145.20 191.30L143.88 183.82M229.70 170.40L228.46 161.16M224.91 163.23L227.80 156.20L232.44 162.22M289.00 190.60L283.60 203.40M289.66 198.81L283.60 203.40L282.66 195.86M55.50 273.00L49.00 285.00M55.48 281.02L49.00 285.00L48.79 277.40M143.80 315.50L142.22 306.03M138.73 308.22L141.40 301.10L146.23 306.97M230.00 269.50L232.50 279.50M234.59 272.19L232.50 279.50L227.22 274.04M200.75 278.00L203.25 287.50M205.25 280.17L203.25 287.50L197.90 282.10M41.75 393.75L40.65 385.46M37.09 387.52L40.00 380.50L44.63 386.53M81.25 380.00L83.25 388.75M85.49 381.49L83.25 388.75L78.08 383.18M145.20 420.00L145.25 428.80M149.06 429.59L145.30 436.20L141.46 429.64M268.25 388.75L262.00 400.00M268.52 396.09L262.00 400.00L261.87 392.40M200.75 430.25L203.25 437.75M204.77 430.30L203.25 437.75L197.56 432.71M307.40 437.75L295.30 456.00M302.10 452.61L295.30 456.00L295.77 448.41M456.50 160.20L459.30 168.20M460.71 160.73L459.30 168.20L453.54 163.24M390.70 197.30L393.70 205.30M394.95 197.80L393.70 205.30L387.83 200.47M569.80 139.10L572.80 147.00M574.02 139.50L572.80 147.00L566.91 142.20M434.80 271.40L436.90 279.60M438.95 272.28L436.90 279.60L431.59 274.17M395.50 291.20L398.30 299.30M399.74 291.84L398.30 299.30L392.56 294.32M557.70 282.90L555.70 274.80M553.59 282.10L555.70 274.80L560.97 280.28M439.60 395.00L442.30 403.10M443.82 395.65L442.30 403.10L436.61 398.06M397.00 427.60L399.40 435.70M401.17 428.31L399.40 435.70L393.89 430.47M545.60 395.90L544.36 387.84M540.84 389.98L543.60 382.90L548.36 388.83M607.20 394.90L600.90 406.00M607.45 402.15L600.90 406.00L600.84 398.40M649.30 392.90L648.04 384.54M644.52 386.67L647.30 379.60L652.04 385.54"/>
<text x="85.65" y="36.70" font-size="10.9" stroke="#111" stroke-width="0.25" text-anchor="middle">1454</text>
<text x="207.00" y="27.10" font-size="10.9" stroke="#111" stroke-width="0.25" text-anchor="middle">1645</text>
<text x="299.65" y="47.90" font-size="10.9" stroke="#111" stroke-width="0.25" text-anchor="middle">1809</text>
<text x="425.00" y="36.10" font-size="10.9" stroke="#111" stroke-width="0.25" text-anchor="middle">1454</text>
<text x="553.50" y="29.60" font-size="10.9" stroke="#111" stroke-width="0.25" text-anchor="middle">1645</text>
<text x="646.25" y="40.60" font-size="10.9" stroke="#111" stroke-width="0.25" text-anchor="middle">1809</text>
<text x="61.50" y="141.10" font-size="10.9" stroke="#111" stroke-width="0.25" text-anchor="middle">1402</text>
<text x="100.50" y="194.60" font-size="10.9" stroke="#111" stroke-width="0.25" text-anchor="middle">1464</text>
<text x="153.45" y="177.90" font-size="10.9" stroke="#111" stroke-width="0.25" text-anchor="middle">1545</text>
<text x="203.50" y="140.10" font-size="10.9" stroke="#111" stroke-width="0.25" text-anchor="middle">1652</text>
<text x="232.75" y="148.10" font-size="10.9" stroke="#111" stroke-width="0.25" text-anchor="middle">1655</text>
<text x="268.25" y="151.60" font-size="10.9" stroke="#111" stroke-width="0.25" text-anchor="middle">1725</text>
<text x="300.50" y="189.10" font-size="10.9" stroke="#111" stroke-width="0.25" text-anchor="middle">1762</text>
<text x="64.50" y="272.10" font-size="10.9" stroke="#111" stroke-width="0.25" text-anchor="middle">1390</text>
<text x="143.35" y="293.60" font-size="10.9" stroke="#111" stroke-width="0.25" text-anchor="middle">1540</text>
<text x="262.50" y="253.10" font-size="10.9" stroke="#111" stroke-width="0.25" text-anchor="middle">1720</text>
<text x="226.25" y="268.40" font-size="10.9" stroke="#111" stroke-width="0.25" text-anchor="middle">1696</text>
<text x="193.50" y="276.60" font-size="10.9" stroke="#111" stroke-width="0.25" text-anchor="middle">1660</text>
<text x="79.00" y="375.30" font-size="10.9" stroke="#111" stroke-width="0.25" text-anchor="middle">1430</text>
<text x="44.50" y="413.10" font-size="10.9" stroke="#111" stroke-width="0.25" text-anchor="middle">1371</text>
<text x="145.50" y="413.50" font-size="10.9" stroke="#111" stroke-width="0.25" text-anchor="middle">1549</text>
<text x="282.25" y="386.50" font-size="10.9" stroke="#111" stroke-width="0.25" text-anchor="middle">1741</text>
<text x="204.45" y="421.80" font-size="10.9" stroke="#111" stroke-width="0.25" text-anchor="middle">1649</text>
<text x="307.60" y="434.90" font-size="10.9" stroke="#111" stroke-width="0.25" text-anchor="middle">1790</text>
<text x="463.25" y="153.70" font-size="10.9" stroke="#111" stroke-width="0.25" text-anchor="middle">1490</text>
<text x="392.35" y="189.40" font-size="10.9" stroke="#111" stroke-width="0.25" text-anchor="middle">1400</text>
<text x="565.70" y="137.20" font-size="10.9" stroke="#111" stroke-width="0.25" text-anchor="middle">1681</text>
<text x="439.80" y="265.90" font-size="10.9" stroke="#111" stroke-width="0.25" text-anchor="middle">1469</text>
<text x="396.70" y="285.00" font-size="10.9" stroke="#111" stroke-width="0.25" text-anchor="middle">1410</text>
<text x="554.05" y="261.60" font-size="10.9" stroke="#111" stroke-width="0.25" text-anchor="middle">1645</text>
<text x="441.05" y="384.70" font-size="10.9" stroke="#111" stroke-width="0.25" text-anchor="middle">1459</text>
<text x="392.35" y="423.10" font-size="10.9" stroke="#111" stroke-width="0.25" text-anchor="middle">1426</text>
<text x="543.10" y="379.90" font-size="10.9" stroke="#111" stroke-width="0.25" text-anchor="middle">1638</text>
<text x="596.25" y="389.70" font-size="10.9" stroke="#111" stroke-width="0.25" text-anchor="middle">1723</text>
<text x="643.70" y="372.90" font-size="10.9" stroke="#111" stroke-width="0.25" text-anchor="middle">1808</text>
<text x="5.15" y="10.20" font-size="13" font-weight="bold" stroke="#111" stroke-width="0.25" text-anchor="middle">A</text>
<text x="355.20" y="10.70" font-size="13" font-weight="bold" stroke="#111" stroke-width="0.25" text-anchor="middle">B</text>
<text x="35.00" y="24.60" font-size="13" font-weight="bold" stroke="#111" stroke-width="0.25" text-anchor="middle">IV</text>
<text x="386.55" y="25.70" font-size="13" font-weight="bold" stroke="#111" stroke-width="0.25" text-anchor="middle">IV</text>
<text x="39.00" y="140.70" font-size="13" font-weight="bold" stroke="#111" stroke-width="0.25" text-anchor="middle">III</text>
<text x="384.40" y="139.00" font-size="13" font-weight="bold" stroke="#111" stroke-width="0.25" text-anchor="middle">III</text>
<text x="35.50" y="263.60" font-size="13" font-weight="bold" stroke="#111" stroke-width="0.25" text-anchor="middle">II</text>
<text x="382.65" y="262.50" font-size="13" font-weight="bold" stroke="#111" stroke-width="0.25" text-anchor="middle">II</text>
<text x="34.75" y="379.00" font-size="13" font-weight="bold" stroke="#111" stroke-width="0.25" text-anchor="middle">I</text>
<text x="382.30" y="380.80" font-size="13" font-weight="bold" stroke="#111" stroke-width="0.25" text-anchor="middle">I</text>
<text x="24.80" y="494.6" font-size="11.7" text-anchor="middle">1350</text>
<text x="55.56" y="494.6" font-size="11.7" text-anchor="middle">1400</text>
<text x="86.32" y="494.6" font-size="11.7" text-anchor="middle">1450</text>
<text x="117.08" y="494.6" font-size="11.7" text-anchor="middle">1500</text>
<text x="147.84" y="494.6" font-size="11.7" text-anchor="middle">1550</text>
<text x="178.60" y="494.6" font-size="11.7" text-anchor="middle">1600</text>
<text x="209.36" y="494.6" font-size="11.7" text-anchor="middle">1650</text>
<text x="240.12" y="494.6" font-size="11.7" text-anchor="middle">1700</text>
<text x="270.88" y="494.6" font-size="11.7" text-anchor="middle">1750</text>
<text x="301.64" y="494.6" font-size="11.7" text-anchor="middle">1800</text>
<text x="332.40" y="494.6" font-size="11.7" text-anchor="middle">1850</text>
<text x="364.80" y="494.6" font-size="11.7" text-anchor="middle">1350</text>
<text x="396.16" y="494.6" font-size="11.7" text-anchor="middle">1400</text>
<text x="427.52" y="494.6" font-size="11.7" text-anchor="middle">1450</text>
<text x="458.88" y="494.6" font-size="11.7" text-anchor="middle">1500</text>
<text x="490.24" y="494.6" font-size="11.7" text-anchor="middle">1550</text>
<text x="521.60" y="494.6" font-size="11.7" text-anchor="middle">1600</text>
<text x="552.96" y="494.6" font-size="11.7" text-anchor="middle">1650</text>
<text x="584.32" y="494.6" font-size="11.7" text-anchor="middle">1700</text>
<text x="615.68" y="494.6" font-size="11.7" text-anchor="middle">1750</text>
<text x="647.04" y="494.6" font-size="11.7" text-anchor="middle">1800</text>
<text x="678.40" y="494.6" font-size="11.7" text-anchor="middle">1850</text>
<text x="107.8" y="510.6" font-size="11" stroke="#111" stroke-width="0.2" textLength="107.5" lengthAdjust="spacingAndGlyphs" xml:space="preserve" style="white-space:pre">Wavenumbers  cm-1</text>
<text x="479.5" y="510.6" font-size="11" stroke="#111" stroke-width="0.2" textLength="106.3" lengthAdjust="spacingAndGlyphs" xml:space="preserve" style="white-space:pre">Wavenumbers  cm-1</text>
<text transform="translate(9.8 281) rotate(-90)" font-size="11" stroke="#111" stroke-width="0.2" textLength="92.7" lengthAdjust="spacingAndGlyphs">Absorbance Units</text>
</svg></body></html>
